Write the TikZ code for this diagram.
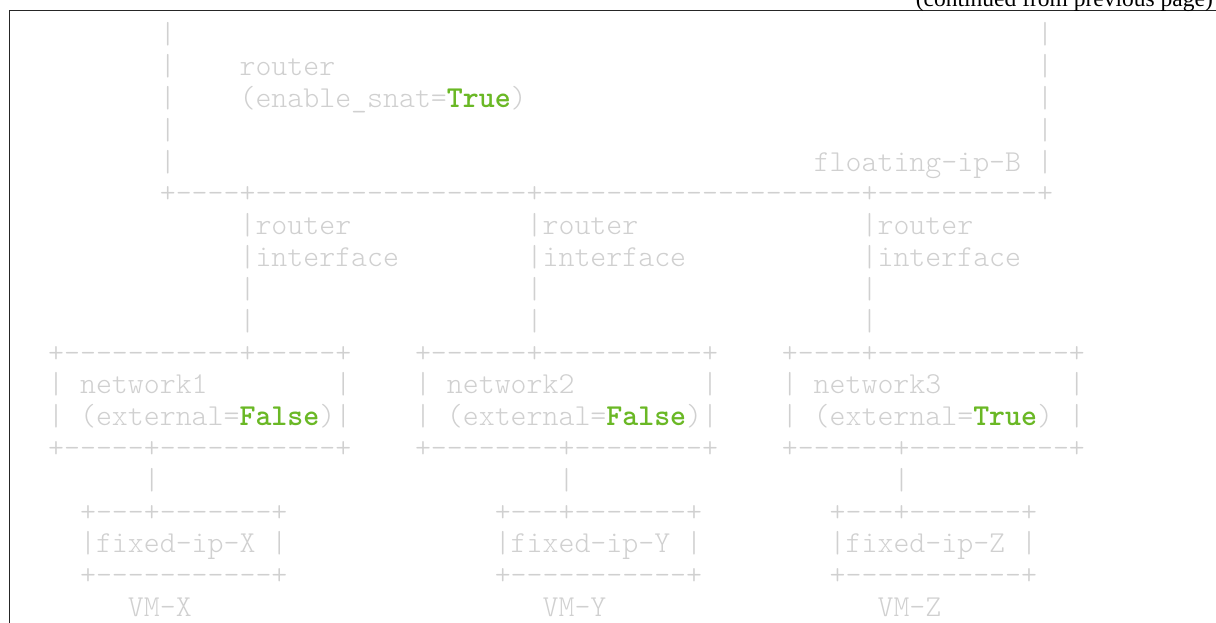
\documentclass[tikz,border=0pt]{standalone}
\usepackage{fontspec}
\setmonofont{lmmonolt10-regular.otf}[BoldFont=lmmonolt10-bold.otf]
\newfontfamily\contfont{Liberation Serif}
\definecolor{codegray}{HTML}{D0D0D0}
\definecolor{kwgreen}{HTML}{6AB825}
\newcommand\gapc[1]{\hspace*{#1\fontcharwd\font`x}}
\newcommand\kw[1]{{\bfseries\color{kwgreen}#1}}
\tikzset{
  codeline/.style={anchor=base west, inner sep=0pt, text=codegray,
    font=\fontsize{30.38}{36}\selectfont\ttfamily},
  frameline/.style={line width=1pt, draw=black!85},
  contnote/.style={anchor=base east, inner sep=0pt, text=black,
    font=\fontsize{23.5}{28}\selectfont\contfont}
}
\begin{document}
\begin{tikzpicture}[x=1pt,y=1pt]
\useasboundingbox (0,0) rectangle (1216,-623);
\fill[white] (0,0) rectangle (1216,-623);
% frame of the continued block
\draw[frameline] (9.5,-623) -- (9.5,-10.5) -- (1216,-10.5);
\node[contnote] (cont) at (1213,-6.5) {(continued from previous page)};
% code lines
\node[codeline] (r0)  at (48,-44)    {\gapc{7}|\gapc{54}|};
\node[codeline] (r1)  at (48,-75.8)  {\gapc{7}|\gapc{4}router\gapc{44}|};
\node[codeline] (r2)  at (48,-107.6) {\gapc{7}|\gapc{4}(enable\_snat=\kw{True})\gapc{32}|};
\node[codeline] (r3)  at (48,-139.4) {\gapc{7}|\gapc{54}|};
\node[codeline] (r4)  at (48,-171.2) {\gapc{7}|\gapc{40}floating-ip-B\gapc{1}|};
\node[codeline] (r5)  at (48,-203)   {\gapc{7}+----+-----------------+--------------------+----------+};
\node[codeline] (r6)  at (48,-234.8) {\gapc{12}|router\gapc{11}|router\gapc{14}|router};
\node[codeline] (r7)  at (48,-266.6) {\gapc{12}|interface\gapc{8}|interface\gapc{11}|interface};
\node[codeline] (r8)  at (48,-298.4) {\gapc{12}|\gapc{17}|\gapc{20}|};
\node[codeline] (r9)  at (48,-330.2) {\gapc{12}|\gapc{17}|\gapc{20}|};
\node[codeline] (r10) at (48,-362)   {+-----------+-----+\gapc{4}+------+----------+\gapc{4}+----+------------+};
\node[codeline] (r11) at (48,-393.8) {|\gapc{1}network1\gapc{8}|\gapc{4}|\gapc{1}network2\gapc{8}|\gapc{4}|\gapc{1}network3\gapc{8}|};
\node[codeline] (r12) at (48,-425.6) {|\gapc{1}(external=\kw{False})|\gapc{4}|\gapc{1}(external=\kw{False})|\gapc{4}|\gapc{1}(external=\kw{True})\gapc{1}|};
\node[codeline] (r13) at (48,-457.4) {+-----+-----------+\gapc{4}+--------+--------+\gapc{4}+------+----------+};
\node[codeline] (r14) at (48,-489.2) {\gapc{6}|\gapc{25}|\gapc{20}|};
\node[codeline] (r15) at (48,-521)   {\gapc{2}+---+-------+\gapc{13}+---+-------+\gapc{8}+---+-------+};
\node[codeline] (r16) at (48,-552.8) {\gapc{2}|fixed-ip-X\gapc{1}|\gapc{13}|fixed-ip-Y\gapc{1}|\gapc{8}|fixed-ip-Z\gapc{1}|};
\node[codeline] (r17) at (48,-584.6) {\gapc{2}+-----------+\gapc{13}+-----------+\gapc{8}+-----------+};
\node[codeline] (r18) at (48,-616.4) {\gapc{5}VM-X\gapc{22}VM-Y\gapc{17}VM-Z};
\end{tikzpicture}
\end{document}
